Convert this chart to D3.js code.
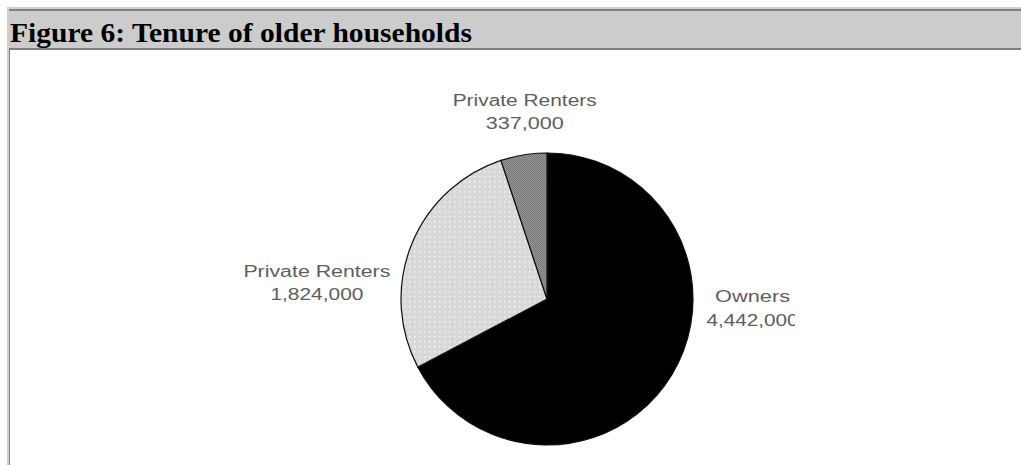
<!DOCTYPE html>
<html>
<head>
<meta charset="utf-8">
<script src="https://cdn.jsdelivr.net/npm/d3@7"></script>
<style>
  body { margin: 0; background: #fff; }
  svg { display: block; }
</style>
</head>
<body>
<div id="chart"></div>
<script>
// values
const categories = ["Owners", "Private Renters", "Private Renters"];
const households = [4442000, 1824000, 337000];
const title = "Figure 6: Tenure of older households";

const width = 1021,
  height = 465,
  cx = 547,
  cy = 299,
  radius = 146;

const svg = d3.select("#chart")
  .append("svg")
  .attr("width", width)
  .attr("height", height);

const defs = svg.append("defs");

// stippled light grey
const dots = defs.append("pattern")
  .attr("id", "dots")
  .attr("width", 5)
  .attr("height", 5)
  .attr("patternUnits", "userSpaceOnUse");
dots.append("rect").attr("width", 5).attr("height", 5).attr("fill", "#d8d8d8");
dots.append("rect").attr("x", 2).attr("y", 2).attr("width", 1.5).attr("height", 1.5).attr("fill", "#f4f4f4");

// dithered mid grey
const dither = defs.append("pattern")
  .attr("id", "dither")
  .attr("width", 2)
  .attr("height", 2)
  .attr("patternUnits", "userSpaceOnUse");
dither.append("rect").attr("width", 2).attr("height", 2).attr("fill", "#969696");
dither.append("rect").attr("width", 1).attr("height", 1).attr("fill", "#767676");
dither.append("rect").attr("x", 1).attr("y", 1).attr("width", 1).attr("height", 1).attr("fill", "#767676");

// the old chart image cut its right-hand label short
defs.append("clipPath")
  .attr("id", "plotclip")
  .append("rect")
  .attr("x", 10).attr("y", 51).attr("width", 785).attr("height", 414);

// table frame
svg.append("rect").attr("x", 7).attr("y", 7).attr("width", width - 7).attr("height", 2).attr("fill", "#d4d0c8");
svg.append("rect").attr("x", 9).attr("y", 9).attr("width", width - 9).attr("height", 2).attr("fill", "#808080");
svg.append("rect").attr("x", 9).attr("y", 11).attr("width", width - 9).attr("height", 37).attr("fill", "#cccccc");
svg.append("rect").attr("x", 9).attr("y", 48).attr("width", width - 9).attr("height", 2).attr("fill", "#808080");
svg.append("rect").attr("x", 7).attr("y", 7).attr("width", 2).attr("height", height - 7).attr("fill", "#d4d0c8");
svg.append("rect").attr("x", 9).attr("y", 50).attr("width", 1).attr("height", height - 50).attr("fill", "#808080");

svg.append("text")
  .attr("x", 10)
  .attr("y", 42)
  .attr("font-family", "'Liberation Serif', 'Times New Roman', serif")
  .attr("font-weight", "bold")
  .attr("font-size", 27)
  .attr("textLength", 462)
  .attr("lengthAdjust", "spacingAndGlyphs")
  .attr("fill", "#000")
  .text(title);

// pie
const data = categories.map((c, i) => ({ name: c, value: households[i] }));
const fills = ["#000000", "url(#dots)", "url(#dither)"];

const pie = d3.pie()
  .value(d => d.value)
  .sort(null);

const arc = d3.arc()
  .innerRadius(0)
  .outerRadius(radius);

const arcs = pie(data);

const g = svg.append("g")
  .attr("transform", `translate(${cx},${cy})`);

g.selectAll("path.slice")
  .data(arcs)
  .join("path")
  .attr("class", "slice")
  .attr("d", arc)
  .attr("fill", (d, i) => fills[i])
  .attr("stroke", "#111")
  .attr("stroke-width", 1.2);

// labels sit outside the pie, nudged the way the old chart placed them
const labelArc = d3.arc().innerRadius(radius * 1.3).outerRadius(radius * 1.3);
const nudge = [[43, -95], [-54, 49], [8, -6]];
const fmt = d3.format(",");
const nameLen = [75, 147, 144];
const valueLen = [92, 93, 78];
const lineGap = [24, 23, 23];

const labels = svg.append("g")
  .attr("clip-path", "url(#plotclip)")
  .attr("font-family", "'Liberation Sans', Arial, sans-serif")
  .attr("font-size", 16)
  .attr("fill", "#5e5e5e")
  .attr("text-anchor", "middle");

arcs.forEach((d, i) => {
  const [lx, ly] = labelArc.centroid(d);
  const x = cx + lx + nudge[i][0];
  const y = cy + ly + nudge[i][1];
  labels.append("text")
    .attr("x", x)
    .attr("y", y)
    .attr("textLength", nameLen[i])
    .attr("lengthAdjust", "spacingAndGlyphs")
    .text(d.data.name);
  labels.append("text")
    .attr("x", x)
    .attr("y", y + lineGap[i])
    .attr("textLength", valueLen[i])
    .attr("lengthAdjust", "spacingAndGlyphs")
    .text(fmt(d.data.value));
});
</script>
</body>
</html>
